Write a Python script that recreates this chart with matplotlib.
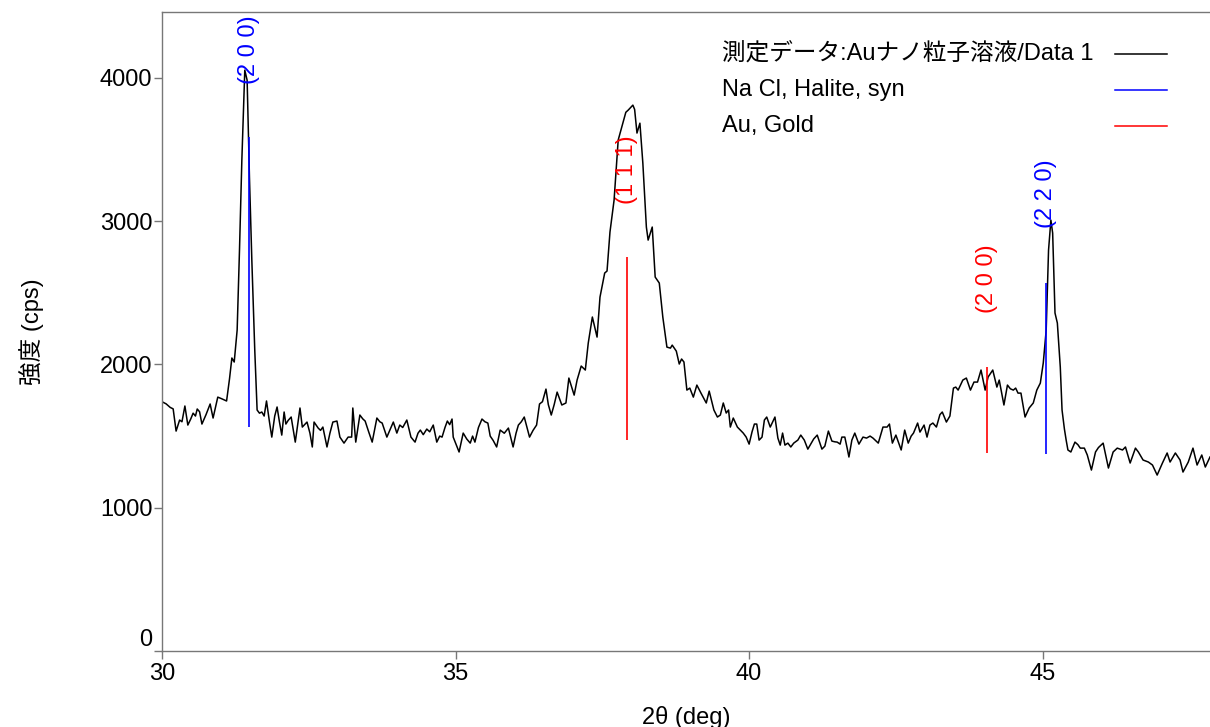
import matplotlib
matplotlib.use("Agg")
import matplotlib.pyplot as plt
import matplotlib.transforms as mtransforms
from matplotlib.lines import Line2D

plt.rcParams['font.family'] = ['Liberation Sans', 'Noto Sans CJK JP', 'DejaVu Sans']

two_theta = [
    30.00, 30.07, 30.14, 30.19, 30.24, 30.30, 30.34, 30.39, 30.44, 30.49,
    30.53, 30.57, 30.60, 30.64, 30.68, 30.75, 30.82, 30.87, 30.95, 31.02,
    31.10, 31.15, 31.19, 31.23, 31.28, 31.32, 31.36, 31.41, 31.45, 31.49,
    31.53, 31.58, 31.62, 31.66, 31.70, 31.74, 31.78, 31.83, 31.87, 31.92,
    31.96, 32.00, 32.04, 32.08, 32.11, 32.15, 32.20, 32.27, 32.35, 32.39,
    32.43, 32.47, 32.52, 32.56, 32.59, 32.66, 32.70, 32.74, 32.81, 32.86,
    32.91, 32.98, 33.03, 33.10, 33.17, 33.23, 33.25, 33.30, 33.37, 33.42,
    33.46, 33.52, 33.58, 33.66, 33.71, 33.75, 33.83, 33.90, 33.94, 34.00,
    34.05, 34.10, 34.17, 34.24, 34.31, 34.36, 34.40, 34.45, 34.51, 34.56,
    34.62, 34.68, 34.73, 34.77, 34.82, 34.86, 34.90, 34.94, 34.96, 35.01,
    35.06, 35.13, 35.19, 35.25, 35.29, 35.33, 35.39, 35.45, 35.50, 35.55,
    35.59, 35.64, 35.70, 35.76, 35.83, 35.90, 35.98, 36.03, 36.07, 36.12,
    36.17, 36.26, 36.32, 36.38, 36.43, 36.48, 36.54, 36.58, 36.63, 36.68,
    36.73, 36.81, 36.88, 36.93, 37.02, 37.07, 37.14, 37.21, 37.26, 37.33,
    37.41, 37.46, 37.54, 37.58, 37.63, 37.70, 37.77, 37.85, 37.90, 37.94,
    38.02, 38.05, 38.09, 38.14, 38.19, 38.25, 38.28, 38.35, 38.40, 38.47,
    38.53, 38.60, 38.66, 38.69, 38.76, 38.81, 38.85, 38.89, 38.94, 38.99,
    39.05, 39.11, 39.18, 39.27, 39.32, 39.40, 39.46, 39.51, 39.56, 39.61,
    39.65, 39.68, 39.73, 39.80, 39.85, 39.90, 39.95, 40.00, 40.05, 40.09,
    40.13, 40.17, 40.22, 40.26, 40.30, 40.36, 40.44, 40.49, 40.53, 40.57,
    40.61, 40.66, 40.71, 40.76, 40.83, 40.88, 40.94, 41.00, 41.05, 41.10,
    41.16, 41.24, 41.29, 41.35, 41.41, 41.46, 41.50, 41.55, 41.58, 41.63,
    41.67, 41.70, 41.75, 41.80, 41.87, 41.94, 42.00, 42.06, 42.11, 42.20,
    42.28, 42.35, 42.39, 42.44, 42.50, 42.59, 42.65, 42.71, 42.76, 42.80,
    42.87, 42.91, 42.98, 43.03, 43.08, 43.13, 43.19, 43.25, 43.29, 43.36,
    43.42, 43.48, 43.52, 43.56, 43.64, 43.70, 43.77, 43.83, 43.89, 43.95,
    44.02, 44.07, 44.15, 44.22, 44.26, 44.34, 44.40, 44.45, 44.50, 44.54,
    44.58, 44.63, 44.70, 44.77, 44.84, 44.90, 44.96, 45.01, 45.06, 45.10,
    45.14, 45.17, 45.21, 45.25, 45.30, 45.33, 45.37, 45.40, 45.43, 45.48,
    45.55, 45.60, 45.64, 45.71, 45.76, 45.83, 45.90, 45.95, 46.03, 46.12,
    46.20, 46.27, 46.36, 46.41, 46.49, 46.58, 46.63, 46.71, 46.80, 46.87,
    46.95, 47.04, 47.12, 47.17, 47.26, 47.34, 47.39, 47.48, 47.56, 47.63,
    47.71, 47.77, 47.85,
]
intensity = [
    1740, 1725, 1700, 1690, 1535, 1612, 1600, 1710, 1577, 1620,
    1660, 1640, 1689, 1670, 1584, 1650, 1724, 1626, 1772, 1760,
    1745, 1900, 2045, 2017, 2240, 2800, 3426, 4054, 3984, 3300,
    2728, 2100, 1682, 1660, 1668, 1640, 1745, 1600, 1493, 1640,
    1703, 1600, 1507, 1668, 1584, 1610, 1633, 1458, 1696, 1563,
    1580, 1598, 1520, 1424, 1598, 1556, 1540, 1563, 1424, 1520,
    1598, 1605, 1493, 1451, 1493, 1493, 1696, 1458, 1647, 1620,
    1605, 1530, 1458, 1626, 1600, 1591, 1493, 1560, 1598, 1521,
    1577, 1560, 1612, 1493, 1458, 1520, 1542, 1510, 1549, 1530,
    1577, 1458, 1500, 1493, 1560, 1605, 1580, 1619, 1493, 1440,
    1389, 1521, 1480, 1451, 1500, 1458, 1560, 1619, 1600, 1591,
    1500, 1470, 1424, 1542, 1520, 1556, 1424, 1520, 1577, 1600,
    1633, 1493, 1540, 1577, 1724, 1740, 1828, 1720, 1647, 1720,
    1807, 1717, 1731, 1905, 1786, 1891, 1989, 1961, 2149, 2331,
    2191, 2470, 2638, 2652, 2924, 3147, 3566, 3684, 3760, 3775,
    3810, 3780, 3615, 3684, 3405, 2959, 2868, 2959, 2610, 2568,
    2331, 2121, 2114, 2135, 2093, 2003, 2038, 2017, 1821, 1835,
    1772, 1856, 1800, 1731, 1814, 1682, 1633, 1647, 1731, 1661,
    1682, 1563, 1626, 1563, 1542, 1521, 1493, 1444, 1530, 1584,
    1584, 1472, 1493, 1612, 1633, 1563, 1633, 1486, 1437, 1521,
    1437, 1451, 1424, 1451, 1472, 1507, 1472, 1409, 1444, 1480,
    1507, 1409, 1430, 1535, 1465, 1460, 1458, 1444, 1493, 1493,
    1416, 1354, 1472, 1521, 1444, 1493, 1486, 1500, 1486, 1451,
    1563, 1563, 1584, 1451, 1507, 1403, 1542, 1451, 1500, 1521,
    1591, 1528, 1577, 1493, 1577, 1591, 1563, 1650, 1668, 1598,
    1640, 1835, 1842, 1821, 1891, 1905, 1821, 1877, 1877, 1961,
    1821, 1912, 1961, 1842, 1891, 1717, 1856, 1830, 1821, 1835,
    1800, 1800, 1633, 1696, 1731, 1821, 1870, 2010, 2240, 2798,
    3007, 2917, 2359, 2289, 1982, 1682, 1550, 1472, 1403, 1389,
    1458, 1440, 1416, 1416, 1368, 1263, 1389, 1420, 1451, 1277,
    1389, 1416, 1403, 1424, 1312, 1416, 1389, 1333, 1319, 1298,
    1228, 1312, 1382, 1319, 1382, 1333, 1249, 1319, 1416, 1298,
    1368, 1284, 1354,
]

# reference sticks: position, bottom, top
nacl_pos = [31.48, 45.06]
nacl_bottom = [1563, 1375]
nacl_top = [3587, 2568]
nacl_hkl = ["(2 0 0)", "(2 2 0)"]
nacl_label_y = [3960, 2952]

au_pos = [37.92, 44.05]
au_bottom = [1472, 1382]
au_top = [2750, 1982]
au_hkl = ["(1 1 1)", "(2 0 0)"]
au_label_y = [3119, 2359]

legend_labels = ["測定データ:Auナノ粒子溶液/Data 1", "Na Cl, Halite, syn", "Au, Gold"]
legend_colors = ["black", "#0000ff", "#ff0000"]

FS = 17
GRAY = "#777777"

fig = plt.figure(figsize=(12.1, 7.27), dpi=100)
ax = fig.add_axes([162 / 1210, 1 - 651 / 727, 1 - 162 / 1210, (651 - 12) / 727])

ax.plot(two_theta, intensity, color="black", lw=1.1)
ax.vlines(nacl_pos, nacl_bottom, nacl_top, color="#0000ff", lw=1.2)
ax.vlines(au_pos, au_bottom, au_top, color="#ff0000", lw=1.2)

for x, y, s in zip(nacl_pos, nacl_label_y, nacl_hkl):
    ax.text(x, y, s, color="#0000ff", rotation=90, ha="center", va="bottom",
            fontsize=17, clip_on=False)
for x, y, s in zip(au_pos, au_label_y, au_hkl):
    ax.text(x, y, s, color="#ff0000", rotation=90, ha="center", va="bottom",
            fontsize=17, clip_on=False)

ax.set_xlim(30, 47.85)
ax.set_ylim(0, 4460)
ax.set_xticks([30, 35, 40, 45])
ax.set_yticks([0, 1000, 2000, 3000, 4000])

ax.spines["right"].set_visible(False)
for side in ["left", "top", "bottom"]:
    ax.spines[side].set_color(GRAY)
    ax.spines[side].set_linewidth(1.0)

ax.tick_params(axis="both", direction="out", length=6, width=1.0, color=GRAY,
               labelsize=FS, labelcolor="black")
ax.tick_params(axis="y", pad=1)
ax.tick_params(axis="x", pad=3)

# the "0" label sits a little above its tick
fig.canvas.draw()
zero_lbl = ax.get_yticklabels()[0]
zero_lbl.set_transform(zero_lbl.get_transform() +
                       mtransforms.ScaledTranslation(0, 10 / 72, fig.dpi_scale_trans))

ax.set_xlabel("2θ (deg)", fontsize=FS, labelpad=15)
ax.set_ylabel("強度 (cps)", fontsize=FS, labelpad=40)

# legend: labels left-aligned, line samples right-aligned
for i, (lab, col) in enumerate(zip(legend_labels, legend_colors)):
    yfig = 1 - (54 + 36 * i) / 727
    fig.text(722 / 1210, yfig, lab, fontsize=FS, ha="left", va="center")
    fig.add_artist(Line2D([1115 / 1210, 1167 / 1210], [yfig, yfig],
                          color=col, lw=1.1, transform=fig.transFigure))

fig.savefig("out.png", dpi=100)
